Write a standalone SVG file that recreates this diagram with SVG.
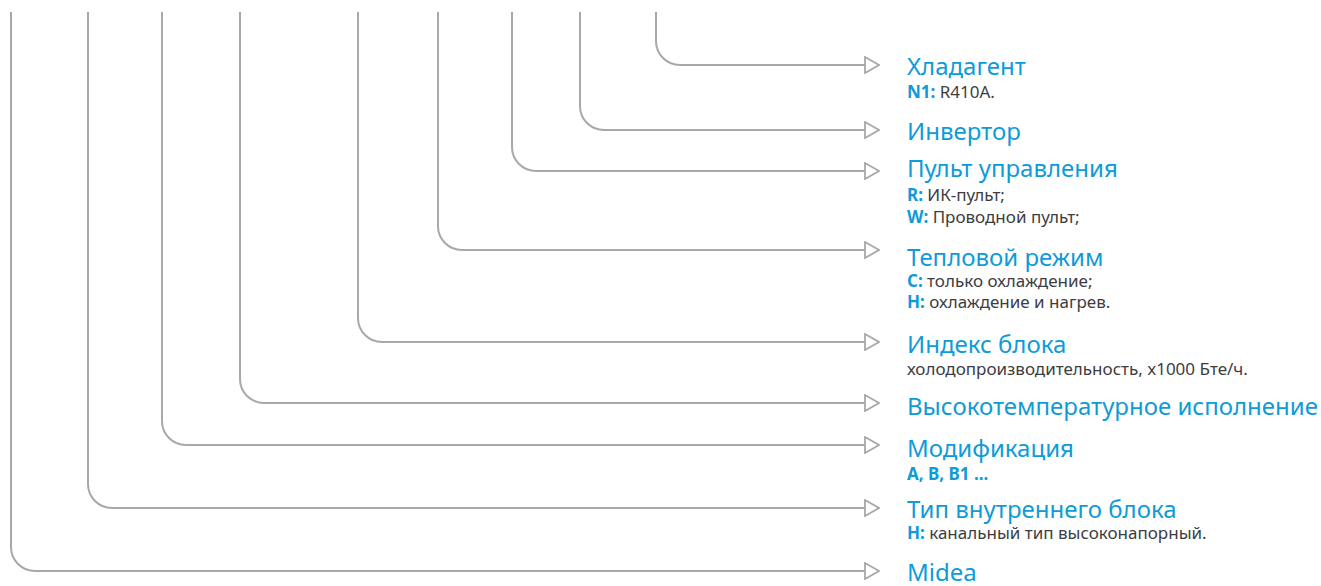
<svg xmlns="http://www.w3.org/2000/svg" width="1321" height="586" viewBox="0 0 1321 586">
<style>
.c{fill:none;stroke:#a8a8ac;stroke-width:2}
.t{font-family:"Noto Sans","Open Sans",sans-serif;font-size:24px;fill:#0e9bd8}
.s{font-family:"Noto Sans","Open Sans",sans-serif;font-size:17px;fill:#3d3d3f}
.b{font-weight:bold;fill:#0e9bd8}
</style>
<defs>
<marker id="ah" viewBox="0 0 16 18" refX="1" refY="9" markerWidth="16" markerHeight="18" markerUnits="userSpaceOnUse" orient="auto">
<path d="M1,1 L15,9 L1,17 Z" fill="#fff" stroke="#a8a8ac" stroke-width="1.8"/>
</marker>
</defs>
<rect width="1321" height="586" fill="#fff"/>
<g id="connectors" class="c" marker-end="url(#ah)">
<path d="M656,12 V41 A24,24 0 0 0 680,65 H865"/>
<path d="M580,12 V106 A24,24 0 0 0 604,130 H865"/>
<path d="M512,12 V147 A24,24 0 0 0 536,171 H865"/>
<path d="M438,12 V226 A24,24 0 0 0 462,250 H865"/>
<path d="M358,12 V318 A24,24 0 0 0 382,342 H865"/>
<path d="M240,12 V379 A24,24 0 0 0 264,403 H865"/>
<path d="M162,12 V421 A24,24 0 0 0 186,445 H865"/>
<path d="M88,12 V484 A24,24 0 0 0 112,508 H865"/>
<path d="M11,12 V547 A24,24 0 0 0 35,571 H865"/>
</g>
<g id="n-refrigerant">
<text class="t" x="907" y="75">Хладагент</text>
<text class="s" x="907" y="98"><tspan class="b">N1:</tspan> R410A.</text>
</g>
<g id="n-inverter">
<text class="t" x="907" y="140">Инвертор</text>
</g>
<g id="n-remote">
<text class="t" x="907" y="177">Пульт управления</text>
<text class="s" x="907" y="201"><tspan class="b">R:</tspan> ИК-пульт;</text>
<text class="s" x="907" y="223"><tspan class="b">W:</tspan> Проводной пульт;</text>
</g>
<g id="n-mode">
<text class="t" x="907" y="266">Тепловой режим</text>
<text class="s" x="907" y="287"><tspan class="b">C:</tspan> только охлаждение;</text>
<text class="s" x="907" y="308"><tspan class="b">H:</tspan> охлаждение и нагрев.</text>
</g>
<g id="n-index">
<text class="t" x="907" y="353">Индекс блока</text>
<text class="s" x="907" y="375">холодопроизводительность, x1000 Бте/ч.</text>
</g>
<g id="n-hightemp">
<text class="t" x="907" y="415">Высокотемпературное исполнение</text>
</g>
<g id="n-mod">
<text class="t" x="907" y="457">Модификация</text>
<text class="s b" x="907" y="480">A, B, B1 ...</text>
</g>
<g id="n-type">
<text class="t" x="907" y="518">Тип внутреннего блока</text>
<text class="s" x="907" y="539"><tspan class="b">H:</tspan> канальный тип высоконапорный.</text>
</g>
<g id="n-brand">
<text class="t" x="907" y="581">Midea</text>
</g>
</svg>
